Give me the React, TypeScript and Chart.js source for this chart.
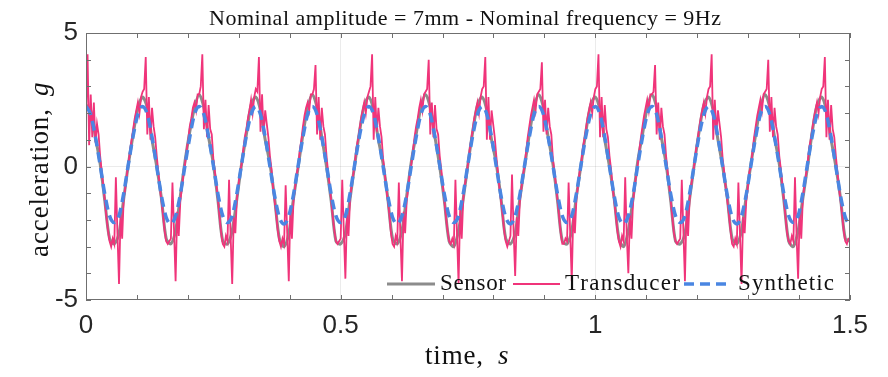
import React, { useEffect, useRef } from "react";
import { Chart, registerables } from "chart.js";

Chart.register(...registerables);

// ---------- data ----------
const TITLE = "Nominal amplitude = 7mm - Nominal frequency = 9Hz";
const X_LABEL = "time,";
const X_LABEL_VAR = "s";
const Y_LABEL = "acceleration,";
const Y_LABEL_VAR = "g";
const X_TICKS = [0, 0.5, 1, 1.5];
const Y_TICKS = [-5, 0, 5];
const X_MINOR = [0, 0.1, 0.2, 0.3, 0.4, 0.5, 0.6, 0.7, 0.8, 0.9, 1.0, 1.1, 1.2, 1.3, 1.4, 1.5];
const Y_MINOR = [-5, -4, -3, -2, -1, 0, 1, 2, 3, 4, 5];
const SERIES_NAMES = ["Sensor", "Transducer", "Synthetic"];

// sample spacing (s)
const SENSOR_DT = 1 / 108;
const TRANSDUCER_DT = 1 / 324;
const SYNTHETIC_DT = 1 / 108;

const sensor = [
  2.3, 2.1, 1.1, 0.1, -1.3, -2.7, -2.9, -2.5, -1.2, 0.1, 1.2, 2.2,
  2.6, 2.2, 1.0, 0.0, -1.2, -2.7, -2.9, -2.4, -1.1, 0.2, 1.3, 2.2,
  2.7, 2.2, 1.1, 0.1, -1.3, -2.8, -2.9, -2.4, -1.2, 0.1, 1.2, 2.3,
  2.6, 2.1, 1.0, 0.1, -1.2, -2.7, -3.0, -2.5, -1.2, 0.0, 1.2, 2.2,
  2.7, 2.2, 1.1, 0.0, -1.3, -2.8, -2.9, -2.5, -1.2, 0.1, 1.3, 2.3,
  2.6, 2.1, 1.0, 0.1, -1.2, -2.7, -2.9, -2.4, -1.1, 0.2, 1.2, 2.2,
  2.7, 2.2, 1.1, 0.0, -1.3, -2.8, -3.0, -2.4, -1.2, 0.1, 1.3, 2.3,
  2.6, 2.1, 1.0, 0.1, -1.2, -2.7, -2.9, -2.5, -1.2, 0.0, 1.2, 2.2,
  2.7, 2.2, 1.1, 0.1, -1.3, -2.8, -2.9, -2.4, -1.1, 0.1, 1.3, 2.3,
  2.6, 2.1, 1.0, 0.0, -1.2, -2.7, -3.0, -2.4, -1.2, 0.2, 1.2, 2.2,
  2.7, 2.2, 1.1, 0.1, -1.3, -2.8, -2.9, -2.5, -1.2, 0.1, 1.3, 2.3,
  2.6, 2.1, 1.0, 0.0, -1.2, -2.7, -2.9, -2.4, -1.1, 0.1, 1.2, 2.2,
  2.7, 2.2, 1.1, 0.1, -1.3, -2.8, -3.0, -2.4, -1.2, 0.0, 1.3, 2.3,
  2.6, 2.1, 1.0, 0.0, -1.2, -2.7, -2.8,
];

const transducer = [
  1.9, 4.2, 0.8, 2.7, 1.1, 2.4, 0.9, 1.6, 1.2, 0.4, -0.2, -0.7, -1.3, -1.9, -2.4, -2.8, -3.0, -2.7, -2.9, -0.4, -2.5, -4.4, -1.8, -2.7, -1.2, -0.8, -0.3, 0.1, 0.6, 1.0, 1.4, 1.8, 2.1, 2.4, 2.0, 2.6,
  2.8, 2.9, 4.1, 1.2, 2.6, 1.0, 2.2, 1.5, 1.1, 0.4, -0.2, -0.8, -1.3, -1.8, -2.4, -2.8, -2.9, -2.8, -2.7, -0.6, -2.4, -4.3, -1.7, -2.6, -1.3, -0.8, -0.3, 0.1, 0.6, 1.0, 1.5, 1.8, 2.2, 2.4, 2.1, 2.7,
  2.7, 3.0, 4.2, 1.4, 2.5, 1.1, 2.3, 1.4, 1.2, 0.3, -0.2, -0.7, -1.3, -1.9, -2.5, -2.9, -3.0, -2.6, -2.8, -0.5, -2.6, -4.4, -1.9, -2.5, -1.2, -0.7, -0.2, 0.1, 0.6, 1.1, 1.4, 1.8, 2.1, 2.5, 2.0, 2.6,
  2.9, 2.8, 4.1, 1.3, 2.7, 1.2, 2.1, 1.6, 1.1, 0.4, -0.1, -0.8, -1.3, -1.8, -2.4, -2.8, -3.0, -2.7, -2.9, -0.7, -2.5, -4.3, -1.6, -2.7, -1.3, -0.8, -0.3, 0.0, 0.6, 1.0, 1.5, 1.9, 2.2, 2.4, 2.1, 2.7,
  2.7, 2.9, 3.8, 1.2, 2.6, 1.0, 2.2, 1.5, 1.2, 0.4, -0.2, -0.7, -1.3, -1.9, -2.4, -2.8, -2.9, -2.8, -2.7, -0.5, -2.4, -4.2, -1.8, -2.6, -1.2, -0.7, -0.3, 0.1, 0.7, 1.0, 1.4, 1.8, 2.1, 2.4, 2.0, 2.6,
  2.8, 3.0, 4.2, 1.0, 2.6, 1.3, 2.2, 1.5, 1.1, 0.3, -0.2, -0.8, -1.3, -1.8, -2.5, -2.9, -3.0, -2.6, -2.8, -0.6, -2.6, -4.3, -1.7, -2.5, -1.3, -0.8, -0.2, 0.1, 0.6, 1.1, 1.5, 1.8, 2.2, 2.5, 2.1, 2.7,
  2.8, 2.9, 4.0, 1.2, 2.4, 1.1, 2.3, 1.4, 1.2, 0.4, -0.1, -0.7, -1.3, -1.9, -2.4, -2.8, -2.9, -2.7, -2.9, -0.5, -2.5, -4.4, -1.6, -2.7, -1.2, -0.7, -0.3, 0.1, 0.6, 1.0, 1.4, 1.8, 2.1, 2.4, 2.0, 2.6,
  2.9, 3.0, 4.1, 1.0, 2.6, 1.0, 2.1, 1.6, 1.1, 0.4, -0.2, -0.8, -1.3, -1.8, -2.4, -2.8, -3.0, -2.8, -2.6, -0.3, -2.4, -4.1, -1.9, -2.6, -1.3, -0.8, -0.3, 0.0, 0.6, 1.1, 1.5, 1.9, 2.2, 2.5, 2.1, 2.7,
  2.8, 2.9, 3.9, 1.3, 2.5, 1.2, 2.2, 1.5, 1.2, 0.3, -0.2, -0.7, -1.3, -1.9, -2.5, -2.9, -2.9, -2.7, -2.8, -0.6, -2.5, -4.3, -1.7, -2.5, -1.2, -0.7, -0.2, 0.1, 0.7, 1.0, 1.4, 1.8, 2.1, 2.4, 2.0, 2.6,
  2.9, 3.0, 4.2, 1.1, 2.6, 1.1, 2.3, 1.4, 1.1, 0.4, -0.1, -0.8, -1.3, -1.8, -2.4, -2.8, -3.0, -2.6, -2.8, -0.4, -2.6, -4.0, -1.8, -2.7, -1.3, -0.8, -0.3, 0.1, 0.6, 1.1, 1.5, 1.9, 2.2, 2.5, 2.1, 2.7,
  2.7, 2.8, 3.8, 1.2, 2.4, 1.0, 2.2, 1.5, 1.2, 0.4, -0.2, -0.7, -1.3, -1.9, -2.5, -2.8, -2.9, -2.8, -2.7, -0.5, -2.4, -4.3, -1.6, -2.6, -1.2, -0.7, -0.3, 0.1, 0.6, 1.0, 1.4, 1.8, 2.1, 2.4, 2.0, 2.6,
  2.9, 3.0, 4.2, 1.0, 2.5, 1.2, 2.1, 1.6, 1.1, 0.3, -0.2, -0.8, -1.3, -1.8, -2.4, -2.9, -3.0, -2.7, -2.9, -0.6, -2.5, -4.4, -1.9, -2.5, -1.3, -0.8, -0.2, 0.0, 0.6, 1.1, 1.5, 1.9, 2.2, 2.5, 2.1, 2.7,
  2.8, 2.9, 4.0, 1.3, 2.6, 1.1, 2.2, 1.5, 1.2, 0.4, -0.1, -0.7, -1.3, -1.9, -2.5, -2.8, -2.9, -2.6, -2.8, -0.4, -2.6, -4.2, -1.7, -2.7, -1.2, -0.7, -0.3, 0.1, 0.7, 1.0, 1.4, 1.8, 2.1, 2.4, 2.0, 2.6,
  2.9, 3.0, 4.1, 1.1, 2.5, 1.0, 2.3, 1.4, 1.1, 0.4, -0.2, -0.8, -1.3, -1.8, -2.4, -2.8, -2.9, -2.7, -2.7,
];

const synthetic = [
  2.25, 1.95, 1.1, 0.05, -1.05, -1.85, -2.1, -1.85, -1.0, 0.1, 1.15, 1.95,
  2.25, 1.95, 1.1, 0.0, -1.1, -1.9, -2.15, -1.85, -1.05, 0.05, 1.1, 1.95,
  2.25, 1.95, 1.1, 0.05, -1.05, -1.85, -2.1, -1.85, -1.0, 0.1, 1.15, 1.95,
  2.25, 1.95, 1.1, 0.0, -1.1, -1.9, -2.15, -1.85, -1.05, 0.05, 1.1, 1.95,
  2.25, 1.95, 1.1, 0.05, -1.05, -1.85, -2.1, -1.85, -1.0, 0.1, 1.15, 1.95,
  2.25, 1.95, 1.1, 0.0, -1.1, -1.9, -2.15, -1.85, -1.05, 0.05, 1.1, 1.95,
  2.25, 1.95, 1.1, 0.05, -1.05, -1.85, -2.1, -1.85, -1.0, 0.1, 1.15, 1.95,
  2.25, 1.95, 1.1, 0.0, -1.1, -1.9, -2.15, -1.85, -1.05, 0.05, 1.1, 1.95,
  2.25, 1.95, 1.1, 0.05, -1.05, -1.85, -2.1, -1.85, -1.0, 0.1, 1.15, 1.95,
  2.25, 1.95, 1.1, 0.0, -1.1, -1.9, -2.15, -1.85, -1.05, 0.05, 1.1, 1.95,
  2.25, 1.95, 1.1, 0.05, -1.05, -1.85, -2.1, -1.85, -1.0, 0.1, 1.15, 1.95,
  2.25, 1.95, 1.1, 0.0, -1.1, -1.9, -2.15, -1.85, -1.05, 0.05, 1.1, 1.95,
  2.25, 1.95, 1.1, 0.05, -1.05, -1.85, -2.1, -1.85, -1.0, 0.1, 1.15, 1.95,
  2.25, 1.95, 1.1, 0.0, -1.1, -1.9, -2.2,
];

// ---------- styles ----------
const GRAY = "#8c8c8c";
const PINK = "#f0347a";
const BLUE = "#4a86e2";
const FRAME = "#6f6f6f";
const SERIF = "'Liberation Serif', 'Times New Roman', serif";
const SANS = "'Liberation Sans', Arial, sans-serif";

function drawFitted(ctx: CanvasRenderingContext2D, text: string, x: number, y: number, width: number) {
  const chars = Array.from(text);
  const natural = ctx.measureText(text).width;
  const ls = chars.length > 1 ? (width - natural) / (chars.length - 1) : 0;
  let cx = x;
  for (const ch of chars) {
    ctx.fillText(ch, cx, y);
    cx += ctx.measureText(ch).width + ls;
  }
}

const decorPlugin = {
  id: "decor",
  afterDraw(chart: any) {
    const { ctx, chartArea: a, scales } = chart;
    const xs = scales.x;
    const ys = scales.y;
    ctx.save();

    // frame
    ctx.strokeStyle = FRAME;
    ctx.lineWidth = 1;
    ctx.strokeRect(a.left + 0.5, a.top + 0.5, a.right - a.left - 1, a.bottom - a.top - 1);

    // inward ticks on all sides
    ctx.beginPath();
    for (const v of X_MINOR) {
      const px = Math.round(xs.getPixelForValue(v)) + 0.5;
      ctx.moveTo(px, a.bottom);
      ctx.lineTo(px, a.bottom - 5);
      ctx.moveTo(px, a.top);
      ctx.lineTo(px, a.top + 5);
    }
    for (const v of Y_MINOR) {
      const py = Math.round(ys.getPixelForValue(v)) + 0.5;
      ctx.moveTo(a.left, py);
      ctx.lineTo(a.left + 5, py);
      ctx.moveTo(a.right, py);
      ctx.lineTo(a.right - 5, py);
    }
    ctx.stroke();

    ctx.fillStyle = "#111111";
    ctx.textBaseline = "alphabetic";
    ctx.textAlign = "left";

    // title
    ctx.font = `22px ${SERIF}`;
    drawFitted(ctx, TITLE, 209, 25, 512);

    // x-axis title
    ctx.font = `27px ${SERIF}`;
    drawFitted(ctx, X_LABEL, 425, 364, 58);
    ctx.font = `italic 27px ${SERIF}`;
    ctx.fillText(X_LABEL_VAR, 498, 364);

    // y-axis title (rotated)
    ctx.save();
    ctx.translate(48, 257);
    ctx.rotate(-Math.PI / 2);
    ctx.font = `27px ${SERIF}`;
    drawFitted(ctx, Y_LABEL, 0, 0, 148);
    ctx.font = `italic 27px ${SERIF}`;
    ctx.fillText(Y_LABEL_VAR, 161, 0);
    ctx.restore();

    // legend
    const ly = 284;
    ctx.lineCap = "butt";
    ctx.strokeStyle = GRAY;
    ctx.lineWidth = 3;
    ctx.beginPath();
    ctx.moveTo(387, ly);
    ctx.lineTo(435, ly);
    ctx.stroke();
    ctx.strokeStyle = PINK;
    ctx.lineWidth = 1.8;
    ctx.beginPath();
    ctx.moveTo(513, ly);
    ctx.lineTo(560, ly);
    ctx.stroke();
    ctx.strokeStyle = BLUE;
    ctx.lineWidth = 3.5;
    ctx.setLineDash([10, 6]);
    ctx.beginPath();
    ctx.moveTo(684, ly);
    ctx.lineTo(730, ly);
    ctx.stroke();
    ctx.setLineDash([]);

    ctx.fillStyle = "#111111";
    ctx.font = `23px ${SERIF}`;
    drawFitted(ctx, SERIES_NAMES[0], 440, 290, 66);
    drawFitted(ctx, SERIES_NAMES[1], 565, 290, 114);
    drawFitted(ctx, SERIES_NAMES[2], 738, 290, 96);

    ctx.restore();
  },
};

export default function App() {
  const ref = useRef<HTMLCanvasElement>(null);

  useEffect(() => {
    document.body.style.margin = "0";
    const canvas = ref.current;
    if (!canvas) return;
    const toXY = (arr: number[], dt: number) => arr.map((y, i) => ({ x: i * dt, y }));

    const chart = new Chart(canvas, {
      type: "line",
      data: {
        datasets: [
          {
            label: SERIES_NAMES[2],
            data: toXY(synthetic, SYNTHETIC_DT),
            borderColor: BLUE,
            borderWidth: 3.5,
            borderDash: [10, 6],
            cubicInterpolationMode: "monotone",
            pointRadius: 0,
            order: 0,
          },
          {
            label: SERIES_NAMES[1],
            data: toXY(transducer, TRANSDUCER_DT),
            borderColor: PINK,
            borderWidth: 1.8,
            tension: 0,
            pointRadius: 0,
            order: 1,
          },
          {
            label: SERIES_NAMES[0],
            data: toXY(sensor, SENSOR_DT),
            borderColor: GRAY,
            borderWidth: 3,
            tension: 0.3,
            pointRadius: 0,
            order: 2,
          },
        ],
      },
      options: {
        animation: false,
        responsive: false,
        events: [],
        layout: { padding: { top: 33, right: 38, left: 0, bottom: 0 } },
        plugins: {
          legend: { display: false },
          tooltip: { enabled: false },
          title: { display: false },
        },
        scales: {
          x: {
            type: "linear",
            min: 0,
            max: 1.5,
            afterBuildTicks: (s: any) => {
              s.ticks = X_TICKS.map((v) => ({ value: v }));
            },
            afterFit: (s: any) => {
              s.height = 77;
            },
            ticks: {
              font: { family: SANS, size: 26 },
              color: "#262626",
              padding: 10,
              maxRotation: 0,
              autoSkip: false,
              callback: (v: any) => String(v),
            },
            grid: {
              drawTicks: false,
              color: (c: any) =>
                c.tick && (c.tick.value === 0.5 || c.tick.value === 1) ? "rgba(0,0,0,0.08)" : "rgba(0,0,0,0)",
            },
            border: { display: false },
          },
          y: {
            type: "linear",
            min: -5,
            max: 5,
            afterBuildTicks: (s: any) => {
              s.ticks = Y_TICKS.map((v) => ({ value: v }));
            },
            afterFit: (s: any) => {
              s.width = 86;
            },
            ticks: {
              font: { family: SANS, size: 26 },
              color: "#262626",
              padding: 8,
              autoSkip: false,
              callback: (v: any) => String(v),
            },
            grid: {
              drawTicks: false,
              color: (c: any) => (c.tick && c.tick.value === 0 ? "rgba(0,0,0,0.08)" : "rgba(0,0,0,0)"),
            },
            border: { display: false },
          },
        },
      } as any,
      plugins: [decorPlugin],
    });

    return () => chart.destroy();
  }, []);

  return <canvas ref={ref} width={888} height={377} style={{ display: "block" }} />;
}
